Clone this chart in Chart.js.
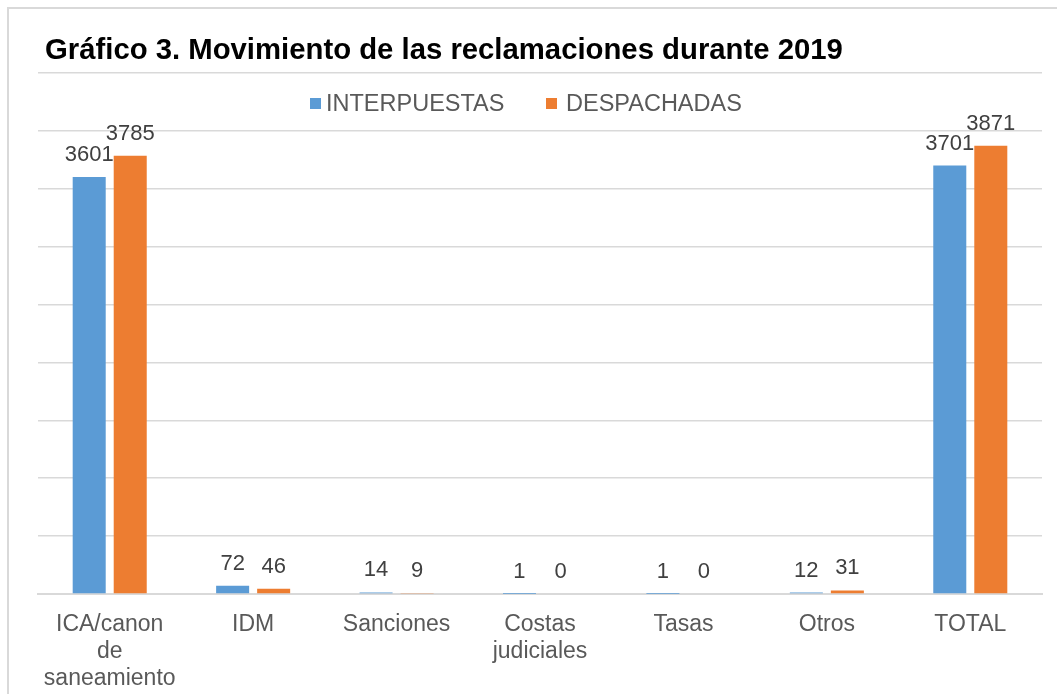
<!DOCTYPE html>
<html>
<head>
<meta charset="utf-8">
<script src="https://cdn.jsdelivr.net/npm/chart.js@4"></script>
<style>
  html, body { margin: 0; padding: 0; background: #fff; }
  body { width: 1057px; height: 694px; position: relative; overflow: hidden; font-family: "Liberation Sans", Arial, sans-serif; }
  #frame { position: absolute; left: 7px; top: 7px; width: 1100px; height: 740px; border: 2px solid #d9d9d9; box-sizing: border-box; }
  #title { position: absolute; left: 45px; top: 34px; font-size: 29.3px; line-height: 29px; font-weight: bold; color: #000; white-space: nowrap; }
  .sw { position: absolute; width: 11px; height: 11px; top: 98px; }
  .lg { position: absolute; top: 92px; font-size: 23.5px; line-height: 23px; color: #595959; white-space: nowrap; }
  canvas { position: absolute; left: 0; top: 0; }
</style>
</head>
<body>
<div id="frame"></div>
<canvas id="chart" width="1057" height="694"></canvas>
<div id="title">Gráfico 3. Movimiento de las reclamaciones durante 2019</div>
<div id="legend"></div>
<script>
// ---- data ----
const categories = [
  ["ICA/canon", "de", "saneamiento"],
  "IDM",
  "Sanciones",
  ["Costas", "judiciales"],
  "Tasas",
  "Otros",
  "TOTAL"
];
const interpuestas = [3601, 72, 14, 1, 1, 12, 3701];
const despachadas = [3785, 46, 9, 0, 0, 31, 3871];
const seriesNames = ["INTERPUESTAS", "DESPACHADAS"];
const seriesColors = ["#5b9bd5", "#ed7d31"];

// legend built from the series lists
const legendSpots = [{ sw: 310, tx: 326 }, { sw: 546, tx: 566 }];
const legendBox = document.getElementById("legend");
seriesNames.forEach((name, i) => {
  const sw = document.createElement("div");
  sw.className = "sw";
  sw.style.left = legendSpots[i].sw + "px";
  sw.style.background = seriesColors[i];
  const tx = document.createElement("div");
  tx.className = "lg";
  tx.style.left = legendSpots[i].tx + "px";
  tx.textContent = name;
  legendBox.appendChild(sw);
  legendBox.appendChild(tx);
});

// value labels above each bar
const barValues = {
  id: "barValues",
  afterDatasetsDraw(chart) {
    const ctx = chart.ctx;
    ctx.save();
    ctx.font = "22px 'Liberation Sans', Arial, sans-serif";
    ctx.fillStyle = "#404040";
    ctx.textAlign = "center";
    ctx.textBaseline = "alphabetic";
    chart.data.datasets.forEach((ds, di) => {
      chart.getDatasetMeta(di).data.forEach((bar, i) => {
        ctx.fillText(String(ds.data[i]), bar.x, bar.y - 16);
      });
    });
    ctx.restore();
  }
};

new Chart(document.getElementById("chart"), {
  type: "bar",
  data: {
    labels: categories,
    datasets: [
      { label: seriesNames[0], data: interpuestas, backgroundColor: seriesColors[0] },
      { label: seriesNames[1], data: despachadas, backgroundColor: seriesColors[1] }
    ]
  },
  options: {
    responsive: false,
    devicePixelRatio: 1,
    animation: false,
    layout: { padding: { left: 38, right: 15, top: 73, bottom: 0 } },
    categoryPercentage: 0.572,
    barPercentage: 0.805,
    plugins: {
      legend: { display: false },
      title: { display: false },
      tooltip: { enabled: false }
    },
    scales: {
      x: {
        afterFit(scale) { scale.height = 100; },
        grid: { display: false, drawTicks: false },
        border: { color: "#d9d9d9", width: 2 },
        ticks: {
          color: "#595959",
          font: { family: "'Liberation Sans', Arial, sans-serif", size: 23, lineHeight: 1.17 },
          padding: 17,
          maxRotation: 0,
          autoSkip: false
        }
      },
      y: {
        min: 0,
        max: 4500,
        ticks: { display: false, stepSize: 500 },
        grid: { color: "#d9d9d9", lineWidth: 1.5, drawTicks: false },
        border: { display: false }
      }
    }
  },
  plugins: [barValues]
});
</script>
</body>
</html>
